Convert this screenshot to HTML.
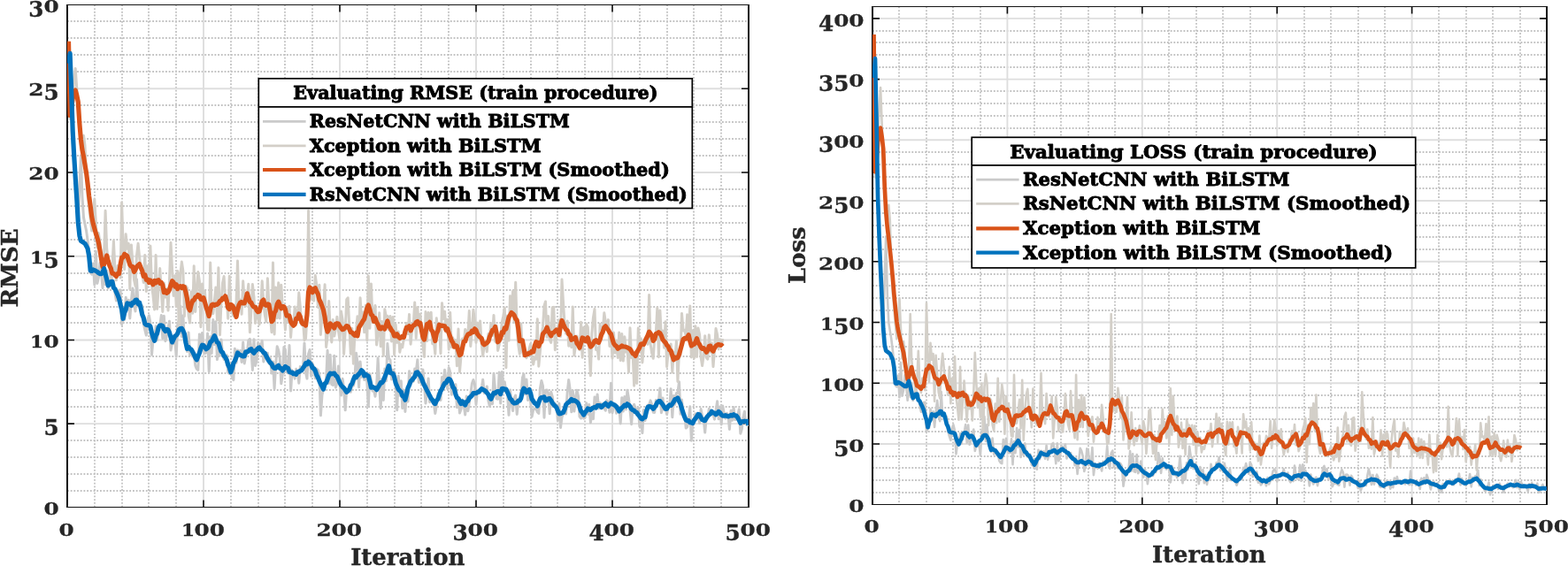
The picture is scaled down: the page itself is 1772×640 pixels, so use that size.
<!DOCTYPE html>
<html lang="en"><head><meta charset="utf-8"><title>Training RMSE and Loss</title>
<style>
html,body{margin:0;padding:0;background:#fff;overflow:hidden;}
#fig{position:absolute;left:0;top:0;width:1772px;height:640px;overflow:hidden;}
body{width:1772px;height:640px;overflow:hidden;position:relative;font-family:'DejaVu Serif','Liberation Serif',serif;font-weight:bold;color:#262626;}
svg{position:absolute;left:0;top:0;display:block;}
.mg{fill:none;stroke:#c2c2c2;stroke-width:1.8;stroke-dasharray:1.8 1.9;}
.Mg{fill:none;stroke:#dedede;stroke-width:1.9;}
.tk{fill:none;stroke:#0d0d0d;stroke-width:1.6;}
.bv{fill:none;stroke:#0d0d0d;stroke-width:2;}
.bh{fill:none;stroke:#141414;stroke-width:1.15;}
text{font-family:'DejaVu Serif','Liberation Serif',serif;font-weight:bold;}
.lg{font-size:20.6px;fill:#000;stroke:#000;stroke-width:0.9;stroke-linejoin:round;}
.al{font-size:26px;fill:#262626;stroke:#262626;stroke-width:0.4;}
.t{position:absolute;width:100px;height:24px;line-height:24px;font-size:24.7px;white-space:nowrap;-webkit-text-stroke:0.35px #262626;}
.xt{text-align:center;}
.yt{text-align:right;}
.t i{font-style:normal;display:inline-block;}
.t i.a{transform:scaleY(0.77);transform-origin:50% 20.3px;}
.t i.o{transform:scale(0.88,0.77);margin:0 -1.1px 0 -0.9px;}
.t i.d{transform:translateY(4.8px) scaleY(0.975);transform-origin:50% 20.3px;}
</style></head>
<body>
<div id="fig">
<svg width="1772" height="640" viewBox="0 0 1772 640">
<rect x="76.0" y="5.5" width="770.0" height="568.0" fill="#fff"/>
<path d="M107,5.5V573.5M138,5.5V573.5M168,5.5V573.5M199,5.5V573.5M261,5.5V573.5M292,5.5V573.5M322,5.5V573.5M353,5.5V573.5M415,5.5V573.5M446,5.5V573.5M476,5.5V573.5M507,5.5V573.5M569,5.5V573.5M600,5.5V573.5M630,5.5V573.5M661,5.5V573.5M723,5.5V573.5M754,5.5V573.5M784,5.5V573.5M815,5.5V573.5M76.0,555H846.0M76.0,536H846.0M76.0,517H846.0M76.0,498H846.0M76.0,460H846.0M76.0,441H846.0M76.0,422H846.0M76.0,403H846.0M76.0,365H846.0M76.0,347H846.0M76.0,328H846.0M76.0,309H846.0M76.0,271H846.0M76.0,252H846.0M76.0,233H846.0M76.0,214H846.0M76.0,176H846.0M76.0,157H846.0M76.0,138H846.0M76.0,119H846.0M76.0,81H846.0M76.0,62H846.0M76.0,43H846.0M76.0,24H846.0" class="mg"/>
<path d="M230.00,5.5V573.5M384.00,5.5V573.5M538.00,5.5V573.5M692.00,5.5V573.5M76.0,479.17H846.0M76.0,384.43H846.0M76.0,289.70H846.0M76.0,194.97H846.0M76.0,100.23H846.0" class="Mg"/>
<path d="M230.00,573.5v-8.0M230.00,5.5v8.0M384.00,573.5v-8.0M384.00,5.5v8.0M538.00,573.5v-8.0M538.00,5.5v8.0M692.00,573.5v-8.0M692.00,5.5v8.0M76.0,479.17h8.0M846.0,479.17h-8.0M76.0,384.43h8.0M846.0,384.43h-8.0M76.0,289.70h8.0M846.0,289.70h-8.0M76.0,194.97h8.0M846.0,194.97h-8.0M76.0,100.23h8.0M846.0,100.23h-8.0" class="tk"/>
<path d="M76.0,5.0V574.0M846.0,5.0V574.0" class="bv"/>
<path d="M75.0,5.5H847.0M75.0,573.5H847.0" class="bh"/>
<clipPath id="c1"><rect x="76.0" y="5.5" width="770.0" height="568.0"/></clipPath>
<g clip-path="url(#c1)" fill="none" stroke-linejoin="round" stroke-linecap="butt">
<path d="M77.5,71.8L79.1,58.5L80.6,96.4L82.2,145.6L83.7,175.9L85.2,202.4L86.8,228.9L88.3,251.6L89.9,209.9L91.4,175.9L92.9,221.3L94.5,245.9L96.0,253.5L97.6,261.1L99.1,272.4L100.6,285.7L102.2,308.4L103.7,310.1L105.3,297.9L106.8,322.2L108.3,284.0L109.9,320.5L111.4,313.7L113.0,297.5L114.5,307.7L116.0,325.7L117.6,291.6L119.1,321.8L120.7,306.0L122.2,325.8L123.7,323.1L125.3,308.9L126.8,319.1L128.4,317.6L129.9,331.0L131.4,340.0L133.0,337.2L134.5,328.2L136.1,327.9L137.6,366.7L139.1,362.0L140.7,361.3L142.2,336.3L143.8,349.0L145.3,339.2L146.8,359.9L148.4,339.7L149.9,325.9L151.5,344.4L153.0,351.9L154.5,315.8L156.1,345.6L157.6,341.2L159.2,350.6L160.7,345.6L162.2,365.6L163.8,373.1L165.3,379.1L166.9,361.3L168.4,356.7L169.9,365.1L171.5,401.3L173.0,383.7L174.6,382.2L176.1,368.8L177.6,384.3L179.2,367.7L180.7,368.7L182.3,356.6L183.8,382.7L185.3,357.2L186.9,385.7L188.4,379.8L190.0,371.0L191.5,363.2L193.0,396.0L194.6,387.3L196.1,388.3L197.7,383.5L199.2,403.3L200.7,367.7L202.3,361.8L203.8,345.9L205.4,380.6L206.9,356.9L208.4,384.9L210.0,390.9L211.5,397.5L213.1,376.0L214.6,401.7L216.1,396.0L217.7,403.1L219.2,400.9L220.8,413.4L222.3,417.2L223.8,418.4L225.4,377.9L226.9,390.9L228.5,376.5L230.0,394.0L231.5,399.6L233.1,398.9L234.6,377.1L236.2,420.1L237.7,380.7L239.2,399.4L240.8,361.5L242.3,389.7L243.9,363.7L245.4,406.6L246.9,395.7L248.5,402.1L250.0,383.9L251.6,400.8L253.1,406.4L254.6,405.6L256.2,401.6L257.7,420.8L259.3,422.4L260.8,411.2L262.3,426.0L263.9,429.7L265.4,394.3L267.0,410.3L268.5,395.9L270.0,399.8L271.6,396.5L273.1,409.4L274.7,387.0L276.2,411.0L277.7,402.7L279.3,398.7L280.8,385.2L282.4,383.3L283.9,394.8L285.4,418.4L287.0,383.7L288.5,413.5L290.1,407.4L291.6,387.6L293.1,389.4L294.7,391.3L296.2,385.4L297.8,409.0L299.3,400.1L300.8,402.6L302.4,399.2L303.9,410.9L305.5,405.4L307.0,422.1L308.5,408.9L310.1,439.7L311.6,413.5L313.2,391.7L314.7,396.0L316.2,404.5L317.8,433.8L319.3,423.2L320.9,392.4L322.4,395.5L323.9,420.6L325.5,421.8L327.0,390.5L328.6,442.0L330.1,418.7L331.6,421.4L333.2,428.1L334.7,417.3L336.3,420.8L337.8,433.2L339.3,414.5L340.9,419.1L342.4,416.4L344.0,387.9L345.5,421.2L347.0,428.1L348.6,400.1L350.1,395.5L351.7,425.3L353.2,411.6L354.7,415.4L356.3,427.7L357.8,417.0L359.4,418.5L360.9,423.7L362.4,469.8L364.0,446.7L365.5,439.8L367.1,433.6L368.6,428.8L370.1,396.2L371.7,433.4L373.2,401.3L374.8,434.7L376.3,435.5L377.8,402.3L379.4,438.2L380.9,433.1L382.5,413.9L384.0,435.3L385.5,447.1L387.1,428.3L388.6,440.3L390.2,463.8L391.7,439.7L393.2,440.8L394.8,438.8L396.3,443.3L397.9,434.8L399.4,436.1L400.9,429.9L402.5,399.2L404.0,409.3L405.6,437.8L407.1,408.9L408.6,426.4L410.2,420.3L411.7,429.6L413.3,423.0L414.8,431.7L416.3,459.8L417.9,422.8L419.4,430.3L421.0,442.0L422.5,440.9L424.0,448.3L425.6,437.0L427.1,404.9L428.7,435.1L430.2,461.7L431.7,428.4L433.3,452.5L434.8,417.1L436.4,430.8L437.9,388.6L439.4,405.1L441.0,407.0L442.5,429.1L444.1,418.3L445.6,420.4L447.1,432.1L448.7,463.7L450.2,425.2L451.8,447.1L453.3,430.7L454.8,461.6L456.4,441.1L457.9,465.5L459.5,445.0L461.0,453.9L462.5,419.7L464.1,431.9L465.6,428.3L467.2,431.3L468.7,417.0L470.2,420.6L471.8,406.8L473.3,432.5L474.9,420.9L476.4,434.4L477.9,418.0L479.5,434.6L481.0,456.1L482.6,442.3L484.1,427.9L485.6,454.7L487.2,447.6L488.7,452.9L490.3,456.9L491.8,467.6L493.3,458.5L494.9,445.1L496.4,445.7L498.0,452.5L499.5,426.4L501.0,431.5L502.6,418.2L504.1,431.4L505.7,439.5L507.2,415.8L508.7,420.6L510.3,446.2L511.8,436.5L513.4,439.0L514.9,434.7L516.4,460.6L518.0,449.3L519.5,467.0L521.1,462.5L522.6,452.0L524.1,457.2L525.7,469.0L527.2,448.0L528.8,464.7L530.3,456.1L531.8,445.8L533.4,433.7L534.9,429.5L536.5,434.4L538.0,457.4L539.5,441.5L541.1,443.4L542.6,443.7L544.2,439.3L545.7,429.2L547.2,444.6L548.8,441.9L550.3,437.0L551.9,453.4L553.4,459.5L554.9,453.1L556.5,456.6L558.0,422.3L559.6,441.2L561.1,450.8L562.6,451.3L564.2,421.0L565.7,456.1L567.3,420.4L568.8,435.1L570.3,431.9L571.9,443.5L573.4,443.5L575.0,469.3L576.5,441.0L578.0,454.3L579.6,464.6L581.1,449.9L582.7,447.1L584.2,468.4L585.7,453.6L587.3,451.8L588.8,451.1L590.4,427.3L591.9,422.9L593.4,445.8L595.0,429.0L596.5,452.5L598.1,439.1L599.6,454.0L601.1,471.2L602.7,463.3L604.2,462.0L605.8,462.4L607.3,466.0L608.8,467.4L610.4,439.5L611.9,430.5L613.5,436.4L615.0,472.2L616.5,441.2L618.1,441.0L619.6,444.5L621.2,467.8L622.7,443.3L624.2,448.2L625.8,459.3L627.3,456.4L628.9,458.2L630.4,475.5L631.9,456.2L633.5,483.5L635.0,471.7L636.6,468.0L638.1,465.0L639.6,467.9L641.2,443.4L642.7,429.5L644.3,441.4L645.8,465.8L647.3,441.7L648.9,465.1L650.4,449.0L652.0,441.3L653.5,448.1L655.0,471.1L656.6,473.0L658.1,467.9L659.7,473.1L661.2,472.2L662.7,455.8L664.3,468.3L665.8,457.6L667.4,477.8L668.9,467.9L670.4,473.6L672.0,449.1L673.5,461.7L675.1,446.0L676.6,462.1L678.1,455.7L679.7,457.0L681.2,458.9L682.8,461.6L684.3,464.2L685.8,452.8L687.4,455.1L688.9,466.2L690.5,433.3L692.0,466.8L693.5,457.7L695.1,456.9L696.6,467.2L698.2,459.7L699.7,460.4L701.2,479.0L702.8,449.7L704.3,465.0L705.9,448.4L707.4,462.9L708.9,441.3L710.5,450.5L712.0,463.9L713.6,479.7L715.1,460.3L716.6,457.3L718.2,461.7L719.7,469.4L721.3,461.2L722.8,482.1L724.3,471.4L725.9,489.6L727.4,463.4L729.0,475.5L730.5,463.1L732.0,458.3L733.6,457.8L735.1,452.9L736.7,457.6L738.2,466.2L739.7,466.4L741.3,452.6L742.8,454.5L744.4,452.7L745.9,438.9L747.4,466.7L749.0,449.9L750.5,463.6L752.1,460.8L753.6,468.5L755.1,460.5L756.7,460.6L758.2,439.8L759.8,471.8L761.3,447.5L762.8,457.2L764.4,444.5L765.9,444.3L767.5,431.7L769.0,468.2L770.5,452.1L772.1,470.3L773.6,467.1L775.2,484.1L776.7,482.6L778.2,475.9L779.8,459.8L781.3,498.2L782.9,477.9L784.4,473.6L785.9,467.7L787.5,470.4L789.0,469.3L790.6,478.4L792.1,462.6L793.6,470.7L795.2,475.0L796.7,489.1L798.3,470.9L799.8,473.2L801.3,462.3L802.9,469.3L804.4,466.6L806.0,468.9L807.5,474.1L809.0,464.4L810.6,453.8L812.1,473.8L813.7,459.9L815.2,480.0L816.7,459.0L818.3,467.3L819.8,473.2L821.4,467.2L822.9,469.6L824.4,485.4L826.0,464.3L827.5,475.3L829.1,460.6L830.6,474.6L832.1,473.7L833.7,470.3L835.2,462.7L836.8,490.2L838.3,485.3L839.8,472.5L841.4,465.2L842.9,479.6L844.5,480.6L846.0,480.6" stroke="#CACACA" stroke-width="3.0"/>
<path d="M77.5,46.8L79.1,134.2L80.6,126.7L82.2,109.6L83.7,90.7L85.2,77.4L86.8,100.1L88.3,119.1L89.9,138.0L91.4,164.5L92.9,164.5L94.5,153.2L96.0,164.5L97.6,198.6L99.1,221.3L100.6,232.7L102.2,247.8L103.7,261.1L105.3,242.1L106.8,225.1L108.3,251.6L109.9,280.0L111.4,263.4L113.0,274.4L114.5,290.9L116.0,314.7L117.6,290.3L119.1,238.3L120.7,281.2L122.2,294.3L123.7,298.8L125.3,322.4L126.8,303.7L128.4,272.4L129.9,304.3L131.4,316.8L133.0,300.6L134.5,301.5L136.1,314.0L137.6,228.9L139.1,277.2L140.7,304.6L142.2,264.8L143.8,281.3L145.3,275.4L146.8,326.8L148.4,276.9L149.9,296.9L151.5,316.5L153.0,323.4L154.5,288.9L156.1,275.3L157.6,290.5L159.2,305.0L160.7,307.2L162.2,319.4L163.8,288.4L165.3,329.5L166.9,300.8L168.4,319.0L169.9,278.1L171.5,322.6L173.0,334.0L174.6,350.0L176.1,288.5L177.6,349.5L179.2,324.5L180.7,303.5L182.3,328.8L183.8,352.5L185.3,319.9L186.9,336.1L188.4,326.4L190.0,351.1L191.5,316.5L193.0,274.3L194.6,305.0L196.1,334.5L197.7,311.8L199.2,346.7L200.7,306.4L202.3,376.4L203.8,310.1L205.4,296.1L206.9,306.5L208.4,357.6L210.0,323.2L211.5,325.6L213.1,356.9L214.6,365.0L216.1,329.9L217.7,354.2L219.2,300.7L220.8,352.5L222.3,329.4L223.8,307.6L225.4,318.0L226.9,369.7L228.5,320.9L230.0,341.7L231.5,329.3L233.1,350.9L234.6,372.8L236.2,373.5L237.7,297.0L239.2,355.1L240.8,354.5L242.3,340.8L243.9,324.9L245.4,361.9L246.9,302.7L248.5,378.7L250.0,341.8L251.6,319.7L253.1,312.5L254.6,337.9L256.2,335.0L257.7,360.2L259.3,312.2L260.8,342.8L262.3,353.9L263.9,357.1L265.4,348.9L267.0,342.5L268.5,295.1L270.0,347.5L271.6,339.0L273.1,355.3L274.7,317.8L276.2,342.8L277.7,345.9L279.3,335.9L280.8,321.3L282.4,375.8L283.9,350.2L285.4,321.6L287.0,336.0L288.5,365.4L290.1,346.1L291.6,358.8L293.1,366.9L294.7,350.2L296.2,317.8L297.8,341.5L299.3,356.1L300.8,363.7L302.4,314.8L303.9,343.7L305.5,359.1L307.0,375.7L308.5,297.0L310.1,378.0L311.6,325.0L313.2,359.8L314.7,319.7L316.2,360.0L317.8,322.3L319.3,347.5L320.9,350.5L322.4,372.9L323.9,348.8L325.5,363.2L327.0,346.3L328.6,381.4L330.1,361.1L331.6,367.8L333.2,346.9L334.7,355.3L336.3,360.8L337.8,331.1L339.3,346.9L340.9,367.3L342.4,361.6L344.0,384.6L345.5,382.8L347.0,357.8L348.6,238.3L350.1,339.6L351.7,326.5L353.2,338.3L354.7,340.1L356.3,311.6L357.8,322.4L359.4,347.5L360.9,322.2L362.4,378.5L364.0,353.9L365.5,348.2L367.1,321.8L368.6,392.5L370.1,380.5L371.7,340.6L373.2,373.4L374.8,386.9L376.3,361.4L377.8,380.1L379.4,371.8L380.9,358.2L382.5,374.5L384.0,384.9L385.5,352.1L387.1,361.5L388.6,400.5L390.2,375.2L391.7,338.7L393.2,336.8L394.8,369.7L396.3,400.3L397.9,371.3L399.4,411.3L400.9,378.4L402.5,373.4L404.0,357.7L405.6,378.2L407.1,336.8L408.6,361.9L410.2,353.0L411.7,375.8L413.3,345.3L414.8,384.8L416.3,312.1L417.9,371.2L419.4,320.9L421.0,362.4L422.5,355.2L424.0,345.4L425.6,390.0L427.1,377.1L428.7,353.8L430.2,391.7L431.7,363.4L433.3,402.2L434.8,349.7L436.4,358.3L437.9,357.4L439.4,373.0L441.0,357.5L442.5,386.0L444.1,358.4L445.6,401.0L447.1,366.9L448.7,387.3L450.2,374.9L451.8,398.2L453.3,389.5L454.8,392.8L456.4,382.7L457.9,375.5L459.5,365.6L461.0,377.6L462.5,355.4L464.1,389.2L465.6,372.8L467.2,367.6L468.7,342.1L470.2,382.5L471.8,347.5L473.3,369.1L474.9,355.3L476.4,373.7L477.9,391.0L479.5,403.4L481.0,352.6L482.6,385.6L484.1,353.5L485.6,365.6L487.2,353.2L488.7,388.7L490.3,386.1L491.8,400.3L493.3,359.8L494.9,374.6L496.4,366.0L498.0,399.8L499.5,342.7L501.0,360.4L502.6,352.2L504.1,375.4L505.7,361.3L507.2,395.3L508.7,353.3L510.3,392.7L511.8,382.1L513.4,389.9L514.9,384.6L516.4,413.7L518.0,372.0L519.5,420.5L521.1,401.5L522.6,383.0L524.1,389.3L525.7,372.4L527.2,376.0L528.8,379.2L530.3,351.6L531.8,391.5L533.4,374.4L534.9,350.2L536.5,362.7L538.0,387.3L539.5,365.0L541.1,382.0L542.6,362.9L544.2,388.8L545.7,402.4L547.2,391.6L548.8,385.8L550.3,397.7L551.9,377.5L553.4,380.2L554.9,365.4L556.5,379.4L558.0,356.4L559.6,386.3L561.1,368.1L562.6,396.4L564.2,389.6L565.7,380.0L567.3,364.2L568.8,357.3L570.3,348.1L571.9,415.7L573.4,357.0L575.0,385.1L576.5,334.8L578.0,351.3L579.6,329.3L581.1,364.5L582.7,319.3L584.2,371.1L585.7,389.6L587.3,400.3L588.8,366.1L590.4,397.8L591.9,401.9L593.4,395.4L595.0,404.7L596.5,401.1L598.1,394.2L599.6,388.7L601.1,404.2L602.7,412.1L604.2,403.8L605.8,406.2L607.3,360.7L608.8,414.2L610.4,397.4L611.9,379.1L613.5,369.4L615.0,345.7L616.5,341.0L618.1,381.2L619.6,357.5L621.2,383.8L622.7,387.4L624.2,348.1L625.8,347.2L627.3,395.8L628.9,379.6L630.4,370.7L631.9,361.7L633.5,380.6L635.0,316.0L636.6,343.4L638.1,367.4L639.6,377.3L641.2,363.1L642.7,391.2L644.3,387.4L645.8,392.7L647.3,347.1L648.9,401.8L650.4,391.5L652.0,380.0L653.5,390.2L655.0,395.7L656.6,364.2L658.1,404.3L659.7,370.3L661.2,384.3L662.7,366.6L664.3,370.0L665.8,395.4L667.4,424.8L668.9,376.3L670.4,359.5L672.0,349.6L673.5,395.5L675.1,393.5L676.6,406.1L678.1,366.6L679.7,378.6L681.2,373.7L682.8,353.8L684.3,363.8L685.8,369.4L687.4,361.6L688.9,391.5L690.5,376.6L692.0,405.1L693.5,376.0L695.1,399.1L696.6,385.3L698.2,404.4L699.7,376.1L701.2,407.6L702.8,377.5L704.3,408.1L705.9,380.8L707.4,398.0L708.9,392.4L710.5,420.6L712.0,370.7L713.6,404.4L715.1,398.8L716.6,436.2L718.2,398.0L719.7,433.5L721.3,371.1L722.8,389.6L724.3,382.8L725.9,410.0L727.4,391.4L729.0,382.8L730.5,384.0L732.0,389.3L733.6,333.5L735.1,388.9L736.7,399.4L738.2,405.3L739.7,382.9L741.3,377.1L742.8,348.1L744.4,403.8L745.9,351.1L747.4,382.2L749.0,373.9L750.5,393.2L752.1,363.8L753.6,414.7L755.1,398.1L756.7,400.5L758.2,388.9L759.8,421.0L761.3,398.2L762.8,407.7L764.4,385.7L765.9,431.4L767.5,398.1L769.0,401.1L770.5,354.4L772.1,373.9L773.6,373.3L775.2,379.4L776.7,355.7L778.2,381.3L779.8,346.0L781.3,403.9L782.9,373.7L784.4,405.2L785.9,368.7L787.5,403.5L789.0,371.1L790.6,378.4L792.1,403.9L793.6,413.5L795.2,401.6L796.7,379.7L798.3,404.4L799.8,406.2L801.3,378.7L802.9,398.0L804.4,387.9L806.0,414.6L807.5,396.4L809.0,371.4L810.6,378.5L812.1,394.9L813.7,383.7L815.2,391.5L816.7,382.9" stroke="#D3CFC8" stroke-width="3.0"/>
<path d="M77.5,46.8L79.1,130.4L80.6,122.9L82.2,111.5L83.7,103.9L85.2,102.0L86.8,107.7L88.3,115.3L89.9,139.9L91.4,157.5L92.9,169.3L94.5,177.3L96.0,186.3L97.6,195.7L99.1,207.9L100.6,221.3L102.2,233.1L103.7,245.0L105.3,252.9L106.8,258.4L108.3,263.7L109.9,269.0L111.4,274.3L113.0,283.4L114.5,292.5L116.0,301.7L117.6,299.1L119.1,294.1L120.7,288.9L122.2,295.0L123.7,300.1L125.3,303.3L126.8,309.2L128.4,309.3L129.9,311.0L131.4,312.4L133.0,309.4L134.5,309.5L136.1,299.1L137.6,291.2L139.1,291.1L140.7,287.3L142.2,288.3L143.8,289.5L145.3,294.5L146.8,299.3L148.4,301.3L149.9,301.6L151.5,307.4L153.0,305.0L154.5,301.4L156.1,300.1L157.6,298.6L159.2,302.7L160.7,306.2L162.2,312.4L163.8,310.7L165.3,316.4L166.9,316.0L168.4,319.5L169.9,316.9L171.5,318.8L173.0,321.9L174.6,317.4L176.1,319.8L177.6,317.2L179.2,316.7L180.7,320.3L182.3,319.4L183.8,322.2L185.3,330.6L186.9,328.6L188.4,331.4L190.0,330.4L191.5,327.5L193.0,322.5L194.6,317.7L196.1,319.3L197.7,324.0L199.2,321.7L200.7,326.7L202.3,324.2L203.8,323.6L205.4,325.6L206.9,323.7L208.4,324.6L210.0,330.6L211.5,337.8L213.1,348.3L214.6,351.0L216.1,344.7L217.7,340.0L219.2,339.4L220.8,336.1L222.3,335.7L223.8,333.5L225.4,334.3L226.9,338.2L228.5,338.8L230.0,336.7L231.5,341.7L233.1,347.7L234.6,351.9L236.2,357.4L237.7,349.8L239.2,344.9L240.8,344.1L242.3,345.3L243.9,344.2L245.4,344.4L246.9,343.1L248.5,340.3L250.0,339.7L251.6,337.3L253.1,338.1L254.6,334.8L256.2,340.0L257.7,348.1L259.3,349.6L260.8,344.4L262.3,345.2L263.9,347.7L265.4,353.6L267.0,358.3L268.5,350.3L270.0,345.0L271.6,342.0L273.1,341.6L274.7,342.8L276.2,342.8L277.7,338.5L279.3,331.9L280.8,336.7L282.4,341.4L283.9,342.3L285.4,345.5L287.0,347.2L288.5,347.4L290.1,351.0L291.6,352.6L293.1,352.0L294.7,346.6L296.2,340.4L297.8,339.1L299.3,344.7L300.8,345.3L302.4,343.9L303.9,344.2L305.5,352.9L307.0,363.6L308.5,362.1L310.1,353.6L311.6,351.3L313.2,344.0L314.7,341.1L316.2,344.8L317.8,348.8L319.3,346.5L320.9,346.5L322.4,349.9L323.9,357.0L325.5,356.7L327.0,357.0L328.6,364.0L330.1,366.3L331.6,368.2L333.2,366.6L334.7,360.2L336.3,360.3L337.8,355.0L339.3,358.2L340.9,364.5L342.4,366.2L344.0,366.7L345.5,368.1L347.0,355.9L348.6,330.2L350.1,324.9L351.7,327.7L353.2,330.7L354.7,326.7L356.3,325.7L357.8,329.5L359.4,332.5L360.9,339.0L362.4,342.0L364.0,346.3L365.5,350.8L367.1,358.8L368.6,369.3L370.1,375.2L371.7,372.3L373.2,365.9L374.8,367.3L376.3,368.9L377.8,371.0L379.4,366.2L380.9,365.7L382.5,366.1L384.0,368.9L385.5,370.9L387.1,372.6L388.6,372.2L390.2,370.3L391.7,368.5L393.2,368.9L394.8,372.0L396.3,375.7L397.9,376.0L399.4,377.9L400.9,379.2L402.5,376.6L404.0,379.9L405.6,370.3L407.1,368.0L408.6,365.6L410.2,362.8L411.7,360.7L413.3,354.3L414.8,348.8L416.3,344.9L417.9,350.0L419.4,355.6L421.0,357.0L422.5,363.4L424.0,359.6L425.6,364.4L427.1,366.8L428.7,371.4L430.2,371.8L431.7,369.9L433.3,370.6L434.8,372.0L436.4,367.3L437.9,362.9L439.4,368.5L441.0,370.6L442.5,373.5L444.1,375.4L445.6,379.8L447.1,379.9L448.7,377.8L450.2,380.6L451.8,382.3L453.3,381.6L454.8,380.1L456.4,381.4L457.9,374.9L459.5,370.2L461.0,370.5L462.5,368.8L464.1,373.8L465.6,370.5L467.2,367.7L468.7,367.4L470.2,364.5L471.8,363.4L473.3,366.6L474.9,365.3L476.4,373.3L477.9,381.4L479.5,384.1L481.0,375.7L482.6,366.3L484.1,366.1L485.6,364.3L487.2,372.8L488.7,374.6L490.3,380.0L491.8,385.5L493.3,377.1L494.9,373.8L496.4,367.2L498.0,368.6L499.5,368.2L501.0,368.4L502.6,368.8L504.1,373.2L505.7,371.7L507.2,376.8L508.7,380.7L510.3,385.2L511.8,387.4L513.4,392.2L514.9,390.7L516.4,391.4L518.0,397.0L519.5,401.6L521.1,400.5L522.6,393.0L524.1,386.3L525.7,385.9L527.2,381.1L528.8,378.1L530.3,377.4L531.8,377.1L533.4,374.2L534.9,375.6L536.5,371.8L538.0,373.3L539.5,377.7L541.1,379.7L542.6,381.4L544.2,382.4L545.7,388.2L547.2,389.8L548.8,388.8L550.3,387.6L551.9,386.0L553.4,380.8L554.9,377.3L556.5,373.4L558.0,373.1L559.6,369.5L561.1,376.4L562.6,386.8L564.2,385.0L565.7,382.1L567.3,375.6L568.8,376.1L570.3,370.8L571.9,371.9L573.4,365.4L575.0,358.8L576.5,356.2L578.0,353.6L579.6,354.8L581.1,356.5L582.7,360.4L584.2,362.0L585.7,371.3L587.3,385.6L588.8,385.1L590.4,384.9L591.9,393.0L593.4,401.7L595.0,399.9L596.5,400.5L598.1,399.1L599.6,399.2L601.1,397.1L602.7,397.9L604.2,391.1L605.8,386.6L607.3,387.4L608.8,391.5L610.4,387.4L611.9,386.3L613.5,377.7L615.0,375.9L616.5,374.3L618.1,370.2L619.6,374.3L621.2,377.2L622.7,379.8L624.2,376.5L625.8,376.2L627.3,374.4L628.9,373.0L630.4,373.6L631.9,378.5L633.5,368.1L635.0,362.5L636.6,366.5L638.1,370.0L639.6,372.6L641.2,373.6L642.7,377.8L644.3,378.8L645.8,384.3L647.3,382.7L648.9,383.6L650.4,381.5L652.0,388.3L653.5,390.0L655.0,393.2L656.6,387.8L658.1,382.0L659.7,382.4L661.2,385.3L662.7,385.9L664.3,381.8L665.8,388.3L667.4,392.1L668.9,391.0L670.4,388.5L672.0,385.5L673.5,384.7L675.1,386.6L676.6,387.3L678.1,383.7L679.7,378.2L681.2,375.4L682.8,370.3L684.3,368.8L685.8,371.0L687.4,373.0L688.9,375.9L690.5,377.7L692.0,383.4L693.5,388.2L695.1,390.5L696.6,391.5L698.2,394.3L699.7,393.0L701.2,392.4L702.8,391.0L704.3,392.0L705.9,392.0L707.4,392.3L708.9,392.9L710.5,393.9L712.0,394.6L713.6,397.2L715.1,399.8L716.6,400.3L718.2,402.4L719.7,398.2L721.3,395.8L722.8,392.8L724.3,389.0L725.9,388.7L727.4,389.5L729.0,385.7L730.5,382.5L732.0,379.5L733.6,375.2L735.1,377.0L736.7,379.6L738.2,385.4L739.7,383.5L741.3,377.4L742.8,376.8L744.4,375.7L745.9,376.9L747.4,379.5L749.0,384.1L750.5,385.8L752.1,387.4L753.6,390.3L755.1,391.6L756.7,395.8L758.2,396.6L759.8,401.7L761.3,406.8L762.8,404.1L764.4,405.1L765.9,404.5L767.5,400.7L769.0,395.3L770.5,389.8L772.1,383.7L773.6,382.4L775.2,383.0L776.7,381.2L778.2,378.8L779.8,385.9L781.3,391.1L782.9,389.9L784.4,389.4L785.9,387.0L787.5,382.6L789.0,387.7L790.6,389.5L792.1,392.8L793.6,394.3L795.2,393.7L796.7,395.4L798.3,398.3L799.8,395.9L801.3,391.6L802.9,391.1L804.4,395.6L806.0,397.1L807.5,393.6L809.0,391.3L810.6,390.0L812.1,389.5L813.7,390.1L815.2,390.1L816.7,391.7" stroke="#D95319" stroke-width="5.2"/>
<path d="M77.5,71.8L79.1,60.4L80.6,100.1L82.2,148.3L83.7,176.1L85.2,200.5L86.8,225.7L88.3,251.4L89.9,266.6L91.4,272.3L92.9,273.3L94.5,274.3L96.0,275.3L97.6,278.2L99.1,281.2L100.6,289.3L102.2,306.0L103.7,306.5L105.3,305.0L106.8,305.7L108.3,306.4L109.9,307.4L111.4,308.6L113.0,309.7L114.5,309.7L116.0,307.8L117.6,303.7L119.1,309.8L120.7,316.2L122.2,322.9L123.7,321.3L125.3,318.6L126.8,318.4L128.4,325.5L129.9,326.6L131.4,330.2L133.0,333.6L134.5,337.5L136.1,344.4L137.6,350.2L139.1,360.3L140.7,353.4L142.2,350.1L143.8,342.9L145.3,344.0L146.8,343.5L148.4,345.5L149.9,342.2L151.5,342.4L153.0,339.3L154.5,339.1L156.1,343.7L157.6,342.2L159.2,348.5L160.7,355.8L162.2,359.3L163.8,366.0L165.3,367.5L166.9,367.6L168.4,367.9L169.9,369.0L171.5,376.2L173.0,381.3L174.6,385.4L176.1,379.6L177.6,376.9L179.2,370.2L180.7,368.1L182.3,367.9L183.8,368.6L185.3,372.4L186.9,374.5L188.4,372.3L190.0,373.0L191.5,376.2L193.0,381.4L194.6,386.9L196.1,383.7L197.7,380.2L199.2,379.2L200.7,377.2L202.3,372.7L203.8,371.5L205.4,371.3L206.9,373.9L208.4,377.4L210.0,387.5L211.5,394.4L213.1,392.4L214.6,394.4L216.1,395.1L217.7,397.9L219.2,400.8L220.8,404.5L222.3,406.8L223.8,403.0L225.4,399.3L226.9,394.3L228.5,390.2L230.0,390.6L231.5,392.4L233.1,394.7L234.6,393.7L236.2,391.4L237.7,386.7L239.2,386.0L240.8,382.6L242.3,379.6L243.9,383.1L245.4,387.0L246.9,387.8L248.5,392.9L250.0,397.5L251.6,398.4L253.1,402.4L254.6,403.8L256.2,407.0L257.7,412.5L259.3,415.5L260.8,420.8L262.3,416.8L263.9,410.5L265.4,408.0L267.0,404.0L268.5,398.9L270.0,400.5L271.6,401.4L273.1,402.1L274.7,402.9L276.2,402.6L277.7,397.9L279.3,397.9L280.8,397.1L282.4,395.2L283.9,394.6L285.4,397.5L287.0,399.2L288.5,396.8L290.1,395.8L291.6,393.6L293.1,393.0L294.7,395.3L296.2,396.3L297.8,398.6L299.3,399.3L300.8,402.5L302.4,405.5L303.9,408.2L305.5,410.1L307.0,411.6L308.5,414.8L310.1,416.4L311.6,416.4L313.2,414.4L314.7,413.3L316.2,416.4L317.8,416.5L319.3,419.0L320.9,416.8L322.4,414.4L323.9,415.5L325.5,416.3L327.0,420.5L328.6,421.1L330.1,421.1L331.6,422.7L333.2,422.3L334.7,423.3L336.3,420.5L337.8,420.6L339.3,419.2L340.9,418.7L342.4,416.0L344.0,414.0L345.5,410.6L347.0,411.7L348.6,409.1L350.1,410.5L351.7,412.5L353.2,416.0L354.7,416.8L356.3,419.2L357.8,423.9L359.4,427.0L360.9,430.7L362.4,434.2L364.0,436.8L365.5,440.1L367.1,433.8L368.6,432.9L370.1,428.8L371.7,424.3L373.2,422.2L374.8,422.9L376.3,422.3L377.8,422.1L379.4,424.6L380.9,425.6L382.5,429.2L384.0,432.8L385.5,435.5L387.1,437.5L388.6,438.8L390.2,441.0L391.7,443.3L393.2,442.1L394.8,440.3L396.3,435.7L397.9,433.8L399.4,429.2L400.9,425.8L402.5,426.7L404.0,424.6L405.6,422.9L407.1,421.1L408.6,418.7L410.2,420.4L411.7,424.9L413.3,423.2L414.8,424.4L416.3,425.2L417.9,431.3L419.4,438.1L421.0,437.3L422.5,438.3L424.0,438.7L425.6,440.7L427.1,438.2L428.7,435.5L430.2,432.7L431.7,432.9L433.3,430.5L434.8,426.5L436.4,422.4L437.9,418.1L439.4,413.6L441.0,421.5L442.5,422.0L444.1,422.5L445.6,426.3L447.1,433.0L448.7,436.8L450.2,440.2L451.8,441.9L453.3,443.2L454.8,447.6L456.4,448.7L457.9,452.2L459.5,445.6L461.0,438.6L462.5,435.5L464.1,431.1L465.6,429.8L467.2,427.7L468.7,425.8L470.2,421.5L471.8,420.8L473.3,423.1L474.9,424.8L476.4,427.9L477.9,432.0L479.5,435.4L481.0,438.2L482.6,441.8L484.1,444.6L485.6,447.5L487.2,450.6L488.7,452.3L490.3,455.4L491.8,456.6L493.3,453.1L494.9,451.1L496.4,446.7L498.0,442.2L499.5,439.7L501.0,436.3L502.6,433.2L504.1,432.9L505.7,429.6L507.2,428.3L508.7,429.3L510.3,432.9L511.8,437.6L513.4,439.7L514.9,445.7L516.4,449.6L518.0,450.6L519.5,453.9L521.1,456.6L522.6,453.9L524.1,456.2L525.7,458.0L527.2,454.3L528.8,453.6L530.3,449.9L531.8,448.8L533.4,447.1L534.9,444.6L536.5,444.7L538.0,444.7L539.5,443.6L541.1,443.2L542.6,441.5L544.2,439.7L545.7,440.3L547.2,441.3L548.8,442.3L550.3,444.2L551.9,446.1L553.4,449.5L554.9,451.1L556.5,447.4L558.0,444.3L559.6,444.7L561.1,443.1L562.6,442.5L564.2,443.2L565.7,445.5L567.3,439.5L568.8,439.3L570.3,440.3L571.9,440.1L573.4,443.3L575.0,446.8L576.5,451.0L578.0,452.1L579.6,454.8L581.1,456.0L582.7,455.6L584.2,455.3L585.7,453.2L587.3,453.1L588.8,450.2L590.4,442.7L591.9,439.2L593.4,440.7L595.0,443.6L596.5,441.6L598.1,440.6L599.6,444.6L601.1,451.3L602.7,453.6L604.2,455.9L605.8,456.7L607.3,459.1L608.8,455.0L610.4,450.9L611.9,449.5L613.5,449.2L615.0,448.9L616.5,453.0L618.1,452.7L619.6,450.8L621.2,450.7L622.7,452.7L624.2,455.7L625.8,457.7L627.3,459.1L628.9,460.6L630.4,464.6L631.9,467.8L633.5,467.7L635.0,466.9L636.6,466.3L638.1,462.7L639.6,457.7L641.2,455.8L642.7,455.0L644.3,453.2L645.8,451.5L647.3,453.2L648.9,452.6L650.4,453.3L652.0,454.5L653.5,456.2L655.0,460.1L656.6,465.0L658.1,466.5L659.7,469.0L661.2,466.2L662.7,464.7L664.3,462.0L665.8,462.4L667.4,463.5L668.9,462.0L670.4,461.1L672.0,460.4L673.5,461.0L675.1,458.7L676.6,458.6L678.1,458.6L679.7,460.5L681.2,458.9L682.8,457.4L684.3,456.1L685.8,457.6L687.4,459.3L688.9,457.3L690.5,455.8L692.0,456.8L693.5,457.5L695.1,458.4L696.6,459.9L698.2,462.3L699.7,464.9L701.2,463.1L702.8,461.2L704.3,459.8L705.9,458.2L707.4,459.0L708.9,456.8L710.5,457.9L712.0,459.5L713.6,462.5L715.1,463.6L716.6,464.2L718.2,466.0L719.7,466.7L721.3,469.0L722.8,470.9L724.3,473.1L725.9,473.9L727.4,472.0L729.0,472.0L730.5,465.1L732.0,460.5L733.6,459.5L735.1,459.8L736.7,460.6L738.2,462.3L739.7,460.5L741.3,458.2L742.8,455.1L744.4,453.5L745.9,453.6L747.4,455.5L749.0,457.5L750.5,460.0L752.1,462.3L753.6,462.2L755.1,459.5L756.7,457.9L758.2,458.4L759.8,456.7L761.3,454.4L762.8,451.6L764.4,451.3L765.9,450.0L767.5,453.9L769.0,456.8L770.5,461.9L772.1,467.0L773.6,471.3L775.2,474.9L776.7,475.9L778.2,475.5L779.8,477.7L781.3,477.9L782.9,478.5L784.4,475.2L785.9,473.3L787.5,471.1L789.0,468.4L790.6,469.0L792.1,472.2L793.6,474.5L795.2,475.2L796.7,475.7L798.3,472.5L799.8,470.6L801.3,468.8L802.9,468.0L804.4,465.3L806.0,466.8L807.5,467.1L809.0,468.7L810.6,467.4L812.1,465.4L813.7,466.8L815.2,469.0L816.7,470.1L818.3,470.2L819.8,469.7L821.4,470.3L822.9,471.0L824.4,470.4L826.0,469.3L827.5,470.1L829.1,468.7L830.6,469.9L832.1,470.1L833.7,472.2L835.2,475.1L836.8,478.3L838.3,476.8L839.8,476.7L841.4,476.2L842.9,476.5L844.5,476.3L846.0,480.6" stroke="#0072BD" stroke-width="5.2"/>
</g>
<rect x="986.0" y="7.5" width="762.0" height="563.0" fill="#fff"/>
<path d="M1016,7.5V570.5M1047,7.5V570.5M1077,7.5V570.5M1108,7.5V570.5M1169,7.5V570.5M1199,7.5V570.5M1230,7.5V570.5M1260,7.5V570.5M1321,7.5V570.5M1352,7.5V570.5M1382,7.5V570.5M1413,7.5V570.5M1474,7.5V570.5M1504,7.5V570.5M1535,7.5V570.5M1565,7.5V570.5M1626,7.5V570.5M1657,7.5V570.5M1687,7.5V570.5M1718,7.5V570.5M986.0,557H1748.0M986.0,543H1748.0M986.0,529H1748.0M986.0,516H1748.0M986.0,488H1748.0M986.0,474H1748.0M986.0,461H1748.0M986.0,447H1748.0M986.0,419H1748.0M986.0,406H1748.0M986.0,392H1748.0M986.0,378H1748.0M986.0,351H1748.0M986.0,337H1748.0M986.0,323H1748.0M986.0,310H1748.0M986.0,282H1748.0M986.0,268H1748.0M986.0,255H1748.0M986.0,241H1748.0M986.0,213H1748.0M986.0,200H1748.0M986.0,186H1748.0M986.0,172H1748.0M986.0,145H1748.0M986.0,131H1748.0M986.0,117H1748.0M986.0,103H1748.0M986.0,76H1748.0M986.0,62H1748.0M986.0,48H1748.0M986.0,35H1748.0" class="mg"/>
<path d="M1138.40,7.5V570.5M1290.80,7.5V570.5M1443.20,7.5V570.5M1595.60,7.5V570.5M986.0,501.97H1748.0M986.0,433.24H1748.0M986.0,364.50H1748.0M986.0,295.77H1748.0M986.0,227.04H1748.0M986.0,158.31H1748.0M986.0,89.58H1748.0M986.0,20.85H1748.0" class="Mg"/>
<path d="M1138.40,570.5v-8.0M1138.40,7.5v8.0M1290.80,570.5v-8.0M1290.80,7.5v8.0M1443.20,570.5v-8.0M1443.20,7.5v8.0M1595.60,570.5v-8.0M1595.60,7.5v8.0M986.0,501.97h8.0M1748.0,501.97h-8.0M986.0,433.24h8.0M1748.0,433.24h-8.0M986.0,364.50h8.0M1748.0,364.50h-8.0M986.0,295.77h8.0M1748.0,295.77h-8.0M986.0,227.04h8.0M1748.0,227.04h-8.0M986.0,158.31h8.0M1748.0,158.31h-8.0M986.0,89.58h8.0M1748.0,89.58h-8.0M986.0,20.85h8.0M1748.0,20.85h-8.0" class="tk"/>
<path d="M986.0,7.0V571.0M1748.0,7.0V571.0" class="bv"/>
<path d="M985.0,7.5H1749.0M985.0,570.5H1749.0" class="bh"/>
<clipPath id="c2"><rect x="986.0" y="7.5" width="762.0" height="563.0"/></clipPath>
<g clip-path="url(#c2)" fill="none" stroke-linejoin="round" stroke-linecap="butt">
<path d="M987.5,88.1L989.0,62.3L990.6,134.3L992.1,219.6L993.6,267.5L995.1,306.5L996.7,342.8L998.2,371.8L999.7,317.1L1001.2,267.5L1002.8,332.7L1004.3,364.7L1005.8,374.1L1007.3,383.3L1008.9,396.7L1010.4,411.6L1011.9,435.7L1013.4,437.3L1015.0,424.8L1016.5,449.3L1018.0,409.8L1019.5,447.6L1021.1,441.0L1022.6,424.4L1024.1,435.0L1025.6,452.7L1027.1,418.1L1028.7,449.0L1030.2,433.3L1031.7,452.8L1033.2,450.2L1034.8,436.2L1036.3,446.3L1037.8,444.9L1039.3,457.6L1040.9,465.8L1042.4,463.3L1043.9,455.0L1045.4,454.8L1047.0,488.3L1048.5,484.6L1050.0,484.0L1051.5,462.5L1053.1,473.7L1054.6,465.2L1056.1,482.9L1057.6,465.6L1059.2,452.9L1060.7,469.7L1062.2,476.2L1063.7,443.1L1065.2,470.8L1066.8,466.9L1068.3,475.1L1069.8,470.8L1071.3,487.5L1072.9,493.4L1074.4,497.9L1075.9,484.0L1077.4,480.3L1079.0,487.1L1080.5,513.4L1082.0,501.2L1083.5,500.1L1085.1,490.0L1086.6,501.7L1088.1,489.2L1089.6,489.9L1091.2,480.1L1092.7,500.6L1094.2,480.6L1095.7,502.7L1097.3,498.4L1098.8,491.7L1100.3,485.5L1101.8,509.9L1103.3,503.8L1104.9,504.6L1106.4,501.1L1107.9,514.8L1109.4,489.1L1111.0,484.4L1112.5,471.0L1114.0,499.0L1115.5,480.4L1117.1,502.1L1118.6,506.4L1120.1,510.9L1121.6,495.5L1123.2,513.7L1124.7,509.9L1126.2,514.7L1127.7,513.2L1129.3,521.1L1130.8,523.4L1132.3,524.2L1133.8,497.0L1135.4,506.4L1136.9,495.9L1138.4,508.6L1139.9,512.3L1141.4,511.9L1143.0,496.4L1144.5,525.2L1146.0,499.1L1147.5,512.2L1149.1,484.1L1150.6,505.6L1152.1,485.9L1153.6,516.9L1155.2,509.7L1156.7,514.0L1158.2,501.4L1159.7,513.1L1161.3,516.8L1162.8,516.3L1164.3,513.6L1165.8,525.6L1167.4,526.5L1168.9,519.8L1170.4,528.6L1171.9,530.6L1173.5,508.7L1175.0,519.2L1176.5,509.8L1178.0,512.4L1179.5,510.2L1181.1,518.7L1182.6,503.7L1184.1,519.7L1185.6,514.4L1187.2,511.8L1188.7,502.3L1190.2,500.9L1191.7,509.1L1193.3,524.2L1194.8,501.2L1196.3,521.2L1197.8,517.4L1199.4,504.1L1200.9,505.3L1202.4,506.7L1203.9,502.5L1205.5,518.4L1207.0,512.7L1208.5,514.3L1210.0,512.1L1211.6,519.6L1213.1,516.1L1214.6,526.3L1216.1,518.4L1217.6,535.9L1219.2,521.2L1220.7,506.9L1222.2,509.9L1223.7,515.6L1225.3,532.9L1226.8,527.0L1228.3,507.4L1229.8,509.5L1231.4,525.5L1232.9,526.2L1234.4,506.1L1235.9,537.1L1237.5,524.3L1239.0,526.0L1240.5,529.8L1242.0,523.5L1243.6,525.6L1245.1,532.5L1246.6,521.9L1248.1,524.6L1249.7,523.0L1251.2,504.3L1252.7,525.8L1254.2,529.8L1255.7,512.7L1257.3,509.5L1258.8,528.2L1260.3,520.1L1261.8,522.4L1263.4,529.5L1264.9,523.3L1266.4,524.3L1267.9,527.2L1269.5,549.7L1271.0,539.4L1272.5,536.0L1274.0,532.7L1275.6,530.1L1277.1,510.1L1278.6,532.7L1280.1,513.4L1281.7,533.3L1283.2,533.8L1284.7,514.1L1286.2,535.2L1287.8,532.5L1289.3,521.5L1290.8,533.7L1292.3,539.6L1293.8,529.9L1295.4,536.3L1296.9,547.2L1298.4,536.0L1299.9,536.5L1301.5,535.5L1303.0,537.8L1304.5,533.4L1306.0,534.1L1307.6,530.8L1309.1,512.1L1310.6,518.6L1312.1,535.0L1313.7,518.4L1315.2,528.8L1316.7,525.3L1318.2,530.6L1319.8,526.8L1321.3,531.7L1322.8,545.5L1324.3,526.8L1325.9,531.0L1327.4,537.1L1328.9,536.6L1330.4,540.2L1331.9,534.6L1333.5,515.8L1335.0,533.5L1336.5,546.3L1338.0,529.9L1339.6,542.2L1341.1,523.4L1342.6,531.3L1344.1,504.8L1345.7,516.0L1347.2,517.1L1348.7,530.3L1350.2,524.1L1351.8,525.3L1353.3,532.0L1354.8,547.2L1356.3,528.1L1357.9,539.6L1359.4,531.2L1360.9,546.2L1362.4,536.7L1364.0,547.9L1365.5,538.6L1367.0,542.8L1368.5,524.9L1370.0,531.8L1371.6,529.9L1373.1,531.5L1374.6,523.4L1376.1,525.5L1377.7,517.0L1379.2,532.2L1380.7,525.6L1382.2,533.2L1383.8,523.9L1385.3,533.3L1386.8,543.8L1388.3,537.3L1389.9,529.6L1391.4,543.2L1392.9,539.9L1394.4,542.4L1396.0,544.2L1397.5,548.7L1399.0,544.9L1400.5,538.7L1402.1,539.0L1403.6,542.2L1405.1,528.8L1406.6,531.7L1408.1,524.0L1409.7,531.6L1411.2,535.8L1412.7,522.6L1414.2,525.5L1415.8,539.2L1417.3,534.3L1418.8,535.6L1420.3,533.3L1421.9,545.8L1423.4,540.7L1424.9,548.5L1426.4,546.6L1428.0,542.0L1429.5,544.3L1431.0,549.3L1432.5,540.1L1434.1,547.6L1435.6,543.9L1437.1,539.0L1438.6,532.8L1440.2,530.5L1441.7,533.2L1443.2,544.4L1444.7,536.9L1446.2,537.8L1447.8,538.0L1449.3,535.8L1450.8,530.4L1452.3,538.4L1453.9,537.1L1455.4,534.5L1456.9,542.6L1458.4,545.4L1460.0,542.5L1461.5,544.1L1463.0,526.5L1464.5,536.7L1466.1,541.4L1467.6,541.7L1469.1,525.7L1470.6,543.8L1472.2,525.4L1473.7,533.6L1475.2,531.8L1476.7,537.9L1478.3,537.9L1479.8,549.4L1481.3,536.6L1482.8,543.0L1484.3,547.5L1485.9,541.0L1487.4,539.6L1488.9,549.1L1490.4,542.7L1492.0,541.9L1493.5,541.6L1495.0,529.3L1496.5,526.8L1498.1,539.0L1499.6,530.3L1501.1,542.2L1502.6,535.6L1504.2,542.9L1505.7,550.2L1507.2,547.0L1508.7,546.4L1510.3,546.6L1511.8,548.1L1513.3,548.7L1514.8,535.9L1516.4,531.1L1517.9,534.2L1519.4,550.6L1520.9,536.7L1522.4,536.6L1524.0,538.4L1525.5,548.8L1527.0,537.8L1528.5,540.1L1530.1,545.3L1531.6,544.0L1533.1,544.8L1534.6,551.8L1536.2,543.9L1537.7,554.7L1539.2,550.4L1540.7,548.9L1542.3,547.7L1543.8,548.9L1545.3,537.8L1546.8,530.5L1548.4,536.8L1549.9,548.0L1551.4,537.0L1552.9,547.7L1554.5,540.6L1556.0,536.7L1557.5,540.1L1559.0,550.1L1560.5,550.9L1562.1,548.9L1563.6,550.9L1565.1,550.6L1566.6,543.7L1568.2,549.0L1569.7,544.5L1571.2,552.7L1572.7,548.9L1574.3,551.1L1575.8,540.6L1577.3,546.3L1578.8,539.1L1580.4,546.5L1581.9,543.7L1583.4,544.2L1584.9,545.1L1586.5,546.3L1588.0,547.4L1589.5,542.3L1591.0,543.4L1592.6,548.2L1594.1,532.6L1595.6,548.4L1597.1,544.5L1598.6,544.2L1600.2,548.6L1601.7,545.4L1603.2,545.8L1604.7,553.1L1606.3,540.9L1607.8,547.7L1609.3,540.3L1610.8,546.8L1612.4,536.8L1613.9,541.3L1615.4,547.2L1616.9,553.4L1618.5,545.7L1620.0,544.4L1621.5,546.3L1623.0,549.5L1624.6,546.1L1626.1,554.2L1627.6,550.3L1629.1,556.8L1630.7,547.0L1632.2,551.8L1633.7,546.9L1635.2,544.8L1636.7,544.6L1638.3,542.4L1639.8,544.5L1641.3,548.2L1642.8,548.3L1644.4,542.2L1645.9,543.1L1647.4,542.3L1648.9,535.5L1650.5,548.4L1652.0,541.0L1653.5,547.1L1655.0,545.9L1656.6,549.1L1658.1,545.8L1659.6,545.8L1661.1,536.0L1662.7,550.4L1664.2,539.8L1665.7,544.3L1667.2,538.4L1668.8,538.2L1670.3,531.7L1671.8,549.0L1673.3,542.0L1674.8,549.8L1676.4,548.6L1677.9,554.9L1679.4,554.4L1680.9,552.0L1682.5,545.5L1684.0,559.4L1685.5,552.7L1687.0,551.1L1688.6,548.8L1690.1,549.9L1691.6,549.4L1693.1,552.9L1694.7,546.7L1696.2,550.0L1697.7,551.6L1699.2,556.6L1700.8,550.1L1702.3,551.0L1703.8,546.6L1705.3,549.4L1706.9,548.4L1708.4,549.3L1709.9,551.3L1711.4,547.5L1712.9,542.8L1714.5,551.2L1716.0,545.5L1717.5,553.5L1719.0,545.1L1720.6,548.6L1722.1,551.0L1723.6,548.6L1725.1,549.6L1726.7,555.4L1728.2,547.4L1729.7,551.8L1731.2,545.8L1732.8,551.5L1734.3,551.2L1735.8,549.8L1737.3,546.7L1738.9,556.9L1740.4,555.3L1741.9,550.7L1743.4,547.8L1745.0,553.3L1746.5,553.7L1748.0,553.7" stroke="#CACACA" stroke-width="2.6"/>
<path d="M987.5,38.9L989.0,200.7L990.6,187.9L992.1,158.2L993.6,123.8L995.1,99.0L996.7,141.2L998.2,174.8L999.7,207.1L1001.2,249.9L1002.8,249.9L1004.3,231.9L1005.8,249.9L1007.3,301.1L1008.9,332.7L1010.4,347.8L1011.9,367.1L1013.4,383.3L1015.0,360.0L1016.5,337.8L1018.0,371.8L1019.5,405.3L1021.1,386.1L1022.6,399.0L1024.1,417.3L1025.6,442.0L1027.1,416.6L1028.7,355.1L1030.2,406.6L1031.7,420.9L1033.2,425.8L1034.8,449.5L1036.3,430.9L1037.8,396.7L1039.3,431.4L1040.9,444.1L1042.4,427.6L1043.9,428.6L1045.4,441.3L1047.0,342.8L1048.5,402.1L1050.0,431.8L1051.5,387.8L1053.1,406.8L1054.6,400.0L1056.1,453.7L1057.6,401.8L1059.2,423.8L1060.7,443.8L1062.2,450.4L1063.7,415.2L1065.2,399.9L1066.8,416.9L1068.3,432.2L1069.8,434.4L1071.3,446.6L1072.9,414.7L1074.4,456.3L1075.9,427.8L1077.4,446.2L1079.0,403.1L1080.5,449.7L1082.0,460.4L1083.5,474.6L1085.1,414.7L1086.6,474.2L1088.1,451.5L1089.6,430.6L1091.2,455.5L1092.7,476.7L1094.2,447.1L1095.7,462.3L1097.3,453.3L1098.8,475.5L1100.3,443.8L1101.8,398.8L1103.3,432.2L1104.9,460.8L1106.4,439.1L1107.9,471.8L1109.4,433.6L1111.0,495.9L1112.5,437.4L1114.0,422.9L1115.5,433.7L1117.1,481.0L1118.6,450.3L1120.1,452.6L1121.6,480.4L1123.2,487.0L1124.7,456.6L1126.2,478.2L1127.7,427.7L1129.3,476.7L1130.8,456.1L1132.3,434.9L1133.8,445.3L1135.4,490.7L1136.9,448.1L1138.4,467.4L1139.9,456.1L1141.4,475.4L1143.0,493.1L1144.5,493.6L1146.0,423.9L1147.5,478.9L1149.1,478.4L1150.6,466.5L1152.1,451.9L1153.6,484.5L1155.2,429.8L1156.7,497.6L1158.2,467.4L1159.7,446.9L1161.3,439.8L1162.8,464.0L1164.3,461.3L1165.8,483.1L1167.4,439.5L1168.9,468.3L1170.4,477.9L1171.9,480.6L1173.5,473.6L1175.0,468.1L1176.5,421.9L1178.0,472.4L1179.5,464.9L1181.1,479.1L1182.6,445.0L1184.1,468.3L1185.6,471.1L1187.2,462.1L1188.7,448.4L1190.2,495.4L1191.7,474.7L1193.3,448.8L1194.8,462.2L1196.3,487.4L1197.8,471.3L1199.4,482.0L1200.9,488.5L1202.4,474.7L1203.9,445.1L1205.5,467.2L1207.0,479.7L1208.5,486.0L1210.0,442.1L1211.6,469.1L1213.1,482.2L1214.6,495.3L1216.1,423.9L1217.6,497.1L1219.2,452.0L1220.7,482.8L1222.2,446.9L1223.7,482.9L1225.3,449.4L1226.8,472.4L1228.3,475.1L1229.8,493.2L1231.4,473.6L1232.9,485.5L1234.4,471.4L1235.9,499.6L1237.5,483.9L1239.0,489.2L1240.5,471.9L1242.0,479.1L1243.6,483.6L1245.1,457.7L1246.6,471.9L1248.1,488.8L1249.7,484.3L1251.2,501.9L1252.7,500.6L1254.2,481.2L1255.7,355.1L1257.3,465.5L1258.8,453.4L1260.3,464.3L1261.8,465.9L1263.4,438.9L1264.9,449.5L1266.4,472.5L1267.9,449.3L1269.5,497.4L1271.0,477.9L1272.5,473.1L1274.0,449.0L1275.6,507.5L1277.1,498.9L1278.6,466.3L1280.1,493.5L1281.7,503.5L1283.2,484.1L1284.7,498.6L1286.2,492.4L1287.8,481.4L1289.3,494.4L1290.8,502.1L1292.3,476.4L1293.8,484.2L1295.4,513.0L1296.9,494.9L1298.4,464.7L1299.9,462.9L1301.5,490.7L1303.0,512.8L1304.5,491.9L1306.0,519.9L1307.6,497.4L1309.1,493.6L1310.6,481.1L1312.1,497.2L1313.7,462.9L1315.2,484.5L1316.7,477.2L1318.2,495.4L1319.8,470.6L1321.3,502.0L1322.8,439.4L1324.3,491.8L1325.9,448.0L1327.4,484.9L1328.9,479.0L1330.4,470.6L1331.9,505.8L1333.5,496.4L1335.0,477.8L1336.5,507.0L1338.0,485.7L1339.6,514.0L1341.1,474.4L1342.6,481.5L1344.1,480.8L1345.7,493.3L1347.2,480.9L1348.7,502.9L1350.2,481.6L1351.8,513.2L1353.3,488.5L1354.8,503.8L1356.3,494.7L1357.9,511.4L1359.4,505.4L1360.9,507.7L1362.4,500.6L1364.0,495.1L1365.5,487.4L1367.0,496.7L1368.5,479.1L1370.0,505.2L1371.6,493.1L1373.1,489.0L1374.6,467.7L1376.1,500.4L1377.7,472.4L1379.2,490.2L1380.7,479.0L1382.2,493.8L1383.8,506.5L1385.3,514.8L1386.8,476.8L1388.3,502.6L1389.9,477.5L1391.4,487.5L1392.9,477.3L1394.4,504.9L1396.0,503.0L1397.5,512.8L1399.0,482.8L1400.5,494.5L1402.1,487.8L1403.6,512.5L1405.1,468.2L1406.6,483.3L1408.1,476.5L1409.7,495.1L1411.2,484.0L1412.7,509.4L1414.2,477.4L1415.8,507.7L1417.3,500.1L1418.8,505.7L1420.3,501.9L1421.9,521.3L1423.4,492.5L1424.9,525.4L1426.4,513.6L1428.0,500.7L1429.5,505.3L1431.0,492.8L1432.5,495.6L1434.1,498.0L1435.6,476.0L1437.1,506.8L1438.6,494.3L1440.2,474.7L1441.7,485.2L1443.2,503.9L1444.7,487.0L1446.2,500.0L1447.8,485.3L1449.3,504.9L1450.8,514.2L1452.3,506.9L1453.9,502.8L1455.4,511.1L1456.9,496.7L1458.4,498.7L1460.0,487.3L1461.5,498.1L1463.0,480.0L1464.5,503.1L1466.1,489.5L1467.6,510.2L1469.1,505.5L1470.6,498.5L1472.2,486.4L1473.7,480.8L1475.2,472.9L1476.7,522.6L1478.3,480.5L1479.8,502.3L1481.3,461.1L1482.8,475.7L1484.3,456.1L1485.9,486.6L1487.4,446.5L1488.9,491.8L1490.4,505.5L1492.0,512.8L1493.5,487.9L1495.0,511.1L1496.5,513.9L1498.1,509.5L1499.6,515.7L1501.1,513.3L1502.6,508.7L1504.2,504.8L1505.7,515.4L1507.2,520.3L1508.7,515.1L1510.3,516.6L1511.8,483.5L1513.3,521.6L1514.8,510.8L1516.4,497.9L1517.9,490.4L1519.4,470.9L1520.9,466.7L1522.4,499.5L1524.0,480.9L1525.5,501.4L1527.0,503.9L1528.5,473.0L1530.1,472.2L1531.6,509.8L1533.1,498.2L1534.6,491.5L1536.2,484.4L1537.7,499.0L1539.2,443.2L1540.7,468.9L1542.3,488.9L1543.8,496.6L1545.3,485.5L1546.8,506.6L1548.4,503.9L1549.9,507.6L1551.4,472.1L1552.9,513.8L1554.5,506.8L1556.0,498.5L1557.5,505.9L1559.0,509.7L1560.5,486.3L1562.1,515.4L1563.6,491.2L1565.1,501.7L1566.6,488.3L1568.2,490.9L1569.7,509.5L1571.2,527.9L1572.7,495.8L1574.3,482.5L1575.8,474.2L1577.3,509.6L1578.8,508.2L1580.4,516.6L1581.9,488.3L1583.4,497.5L1584.9,493.8L1586.5,477.8L1588.0,486.0L1589.5,490.5L1591.0,484.3L1592.6,506.8L1594.1,496.0L1595.6,515.9L1597.1,495.5L1598.6,512.0L1600.2,502.4L1601.7,515.5L1603.2,495.6L1604.7,517.6L1606.3,496.7L1607.8,517.9L1609.3,499.1L1610.8,511.3L1612.4,507.4L1613.9,525.5L1615.4,491.5L1616.9,515.5L1618.5,511.8L1620.0,534.1L1621.5,511.3L1623.0,532.7L1624.6,491.8L1626.1,505.5L1627.6,500.6L1629.1,519.1L1630.7,506.8L1632.2,500.6L1633.7,501.5L1635.2,505.3L1636.7,459.9L1638.3,505.0L1639.8,512.2L1641.3,516.1L1642.8,500.7L1644.4,496.4L1645.9,473.0L1647.4,515.1L1648.9,475.6L1650.5,500.1L1652.0,494.0L1653.5,508.0L1655.0,486.1L1656.6,522.0L1658.1,511.3L1659.6,512.9L1661.1,505.0L1662.7,525.7L1664.2,511.4L1665.7,517.6L1667.2,502.7L1668.8,531.6L1670.3,511.4L1671.8,513.3L1673.3,478.3L1674.8,493.9L1676.4,493.5L1677.9,498.1L1679.4,479.4L1680.9,499.5L1682.5,471.2L1684.0,515.2L1685.5,493.8L1687.0,516.0L1688.6,489.9L1690.1,514.9L1691.6,491.8L1693.1,497.3L1694.7,515.2L1696.2,521.2L1697.7,513.7L1699.2,498.4L1700.8,515.5L1702.3,516.6L1703.8,497.6L1705.3,511.3L1706.9,504.2L1708.4,521.9L1709.9,510.2L1711.4,492.0L1712.9,497.4L1714.5,509.2L1716.0,501.3L1717.5,506.8L1719.0,500.7" stroke="#D3CFC8" stroke-width="2.6"/>
<path d="M987.5,38.9L989.0,194.3L990.6,181.4L992.1,161.5L993.6,148.0L995.1,144.6L996.7,154.8L998.2,168.2L999.7,210.2L1001.2,238.8L1002.8,257.4L1004.3,269.6L1005.8,283.1L1007.3,297.0L1008.9,314.3L1010.4,332.7L1011.9,348.4L1013.4,363.6L1015.0,373.5L1016.5,380.1L1018.0,386.5L1019.5,392.7L1021.1,398.8L1022.6,409.1L1024.1,419.1L1025.6,428.8L1027.1,426.1L1028.7,420.8L1030.2,415.1L1031.7,421.7L1033.2,427.1L1034.8,430.5L1036.3,436.5L1037.8,436.5L1039.3,438.3L1040.9,439.7L1042.4,436.7L1043.9,436.8L1045.4,426.1L1047.0,417.7L1048.5,417.5L1050.0,413.4L1051.5,414.5L1053.1,415.8L1054.6,421.2L1056.1,426.3L1057.6,428.3L1059.2,428.7L1060.7,434.7L1062.2,432.2L1063.7,428.5L1065.2,427.1L1066.8,425.5L1068.3,429.9L1069.8,433.4L1071.3,439.7L1072.9,438.0L1074.4,443.7L1075.9,443.2L1077.4,446.7L1079.0,444.2L1080.5,446.0L1082.0,449.0L1083.5,444.7L1085.1,447.0L1086.6,444.5L1088.1,444.0L1089.6,447.5L1091.2,446.6L1092.7,449.3L1094.2,457.3L1095.7,455.4L1097.3,458.0L1098.8,457.1L1100.3,454.4L1101.8,449.6L1103.3,445.0L1104.9,446.5L1106.4,451.0L1107.9,448.9L1109.4,453.6L1111.0,451.2L1112.5,450.6L1114.0,452.5L1115.5,450.8L1117.1,451.7L1118.6,457.2L1120.1,463.9L1121.6,473.2L1123.2,475.5L1124.7,470.0L1126.2,465.8L1127.7,465.3L1129.3,462.3L1130.8,462.0L1132.3,460.0L1133.8,460.7L1135.4,464.2L1136.9,464.8L1138.4,462.9L1139.9,467.4L1141.4,472.6L1143.0,476.2L1144.5,480.8L1146.0,474.5L1147.5,470.2L1149.1,469.5L1150.6,470.6L1152.1,469.6L1153.6,469.7L1155.2,468.6L1156.7,466.1L1158.2,465.6L1159.7,463.4L1161.3,464.1L1162.8,461.1L1164.3,465.8L1165.8,472.9L1167.4,474.2L1168.9,469.8L1170.4,470.4L1171.9,472.7L1173.5,477.6L1175.0,481.6L1176.5,474.8L1178.0,470.3L1179.5,467.7L1181.1,467.2L1182.6,468.3L1184.1,468.3L1185.6,464.5L1187.2,458.5L1188.7,462.9L1190.2,467.1L1191.7,467.9L1193.3,470.7L1194.8,472.2L1196.3,472.3L1197.8,475.5L1199.4,476.8L1200.9,476.3L1202.4,471.6L1203.9,466.2L1205.5,465.0L1207.0,470.0L1208.5,470.5L1210.0,469.3L1211.6,469.5L1213.1,477.0L1214.6,485.9L1216.1,484.6L1217.6,477.6L1219.2,475.7L1220.7,469.4L1222.2,466.9L1223.7,470.1L1225.3,473.6L1226.8,471.6L1228.3,471.6L1229.8,474.5L1231.4,480.5L1232.9,480.3L1234.4,480.5L1235.9,486.2L1237.5,488.1L1239.0,489.5L1240.5,488.3L1242.0,483.1L1243.6,483.2L1245.1,478.8L1246.6,481.4L1248.1,486.6L1249.7,487.9L1251.2,488.4L1252.7,489.5L1254.2,479.6L1255.7,456.9L1257.3,451.9L1258.8,454.6L1260.3,457.3L1261.8,453.6L1263.4,452.7L1264.9,456.2L1266.4,459.1L1267.9,464.9L1269.5,467.6L1271.0,471.4L1272.5,475.3L1274.0,482.0L1275.6,490.4L1277.1,494.9L1278.6,492.7L1280.1,487.7L1281.7,488.8L1283.2,490.1L1284.7,491.8L1286.2,488.0L1287.8,487.5L1289.3,487.9L1290.8,490.1L1292.3,491.7L1293.8,493.0L1295.4,492.7L1296.9,491.1L1298.4,489.8L1299.9,490.1L1301.5,492.5L1303.0,495.4L1304.5,495.5L1306.0,497.0L1307.6,497.9L1309.1,496.0L1310.6,498.5L1312.1,491.2L1313.7,489.4L1315.2,487.5L1316.7,485.2L1318.2,483.6L1319.8,478.2L1321.3,473.6L1322.8,470.2L1324.3,474.6L1325.9,479.3L1327.4,480.5L1328.9,485.7L1330.4,482.6L1331.9,486.5L1333.5,488.5L1335.0,492.0L1336.5,492.4L1338.0,490.9L1339.6,491.4L1341.1,492.5L1342.6,488.8L1344.1,485.3L1345.7,489.8L1347.2,491.4L1348.7,493.6L1350.2,495.1L1351.8,498.4L1353.3,498.5L1354.8,496.9L1356.3,499.0L1357.9,500.3L1359.4,499.7L1360.9,498.6L1362.4,499.6L1364.0,494.8L1365.5,491.1L1367.0,491.3L1368.5,490.0L1370.0,493.9L1371.6,491.3L1373.1,489.1L1374.6,488.9L1376.1,486.6L1377.7,485.7L1379.2,488.3L1380.7,487.2L1382.2,493.5L1383.8,499.6L1385.3,501.5L1386.8,495.3L1388.3,488.0L1389.9,487.9L1391.4,486.4L1392.9,493.1L1394.4,494.5L1396.0,498.5L1397.5,502.5L1399.0,496.4L1400.5,493.9L1402.1,488.7L1403.6,489.9L1405.1,489.5L1406.6,489.7L1408.1,490.0L1409.7,493.4L1411.2,492.3L1412.7,496.1L1414.2,499.1L1415.8,502.3L1417.3,503.9L1418.8,507.3L1420.3,506.2L1421.9,506.7L1423.4,510.6L1424.9,513.7L1426.4,512.9L1428.0,507.9L1429.5,503.1L1431.0,502.8L1432.5,499.4L1434.1,497.1L1435.6,496.6L1437.1,496.4L1438.6,494.2L1440.2,495.2L1441.7,492.3L1443.2,493.5L1444.7,496.9L1446.2,498.3L1447.8,499.6L1449.3,500.3L1450.8,504.5L1452.3,505.6L1453.9,504.9L1455.4,504.1L1456.9,502.9L1458.4,499.2L1460.0,496.5L1461.5,493.6L1463.0,493.3L1464.5,490.6L1466.1,495.9L1467.6,503.5L1469.1,502.2L1470.6,500.1L1472.2,495.2L1473.7,495.6L1475.2,491.6L1476.7,492.4L1478.3,487.4L1479.8,482.0L1481.3,479.8L1482.8,477.6L1484.3,478.6L1485.9,480.1L1487.4,483.3L1488.9,484.6L1490.4,492.0L1492.0,502.6L1493.5,502.3L1495.0,502.2L1496.5,507.8L1498.1,513.7L1499.6,512.5L1501.1,512.9L1502.6,512.0L1504.2,512.1L1505.7,510.7L1507.2,511.2L1508.7,506.5L1510.3,503.4L1511.8,503.9L1513.3,506.8L1514.8,503.9L1516.4,503.1L1517.9,496.9L1519.4,495.5L1520.9,494.2L1522.4,491.1L1524.0,494.2L1525.5,496.5L1527.0,498.4L1528.5,496.0L1530.1,495.7L1531.6,494.4L1533.1,493.3L1534.6,493.7L1536.2,497.4L1537.7,489.5L1539.2,485.0L1540.7,488.2L1542.3,491.0L1543.8,492.9L1545.3,493.8L1546.8,496.9L1548.4,497.7L1549.9,501.7L1551.4,500.5L1552.9,501.2L1554.5,499.6L1556.0,504.6L1557.5,505.7L1559.0,508.0L1560.5,504.2L1562.1,500.1L1563.6,500.3L1565.1,502.4L1566.6,502.8L1568.2,499.8L1569.7,504.5L1571.2,507.2L1572.7,506.5L1574.3,504.7L1575.8,502.6L1577.3,502.0L1578.8,503.3L1580.4,503.9L1581.9,501.3L1583.4,497.2L1584.9,495.1L1586.5,491.1L1588.0,490.0L1589.5,491.7L1591.0,493.2L1592.6,495.5L1594.1,496.8L1595.6,501.0L1597.1,504.5L1598.6,506.1L1600.2,506.8L1601.7,508.8L1603.2,507.8L1604.7,507.4L1606.3,506.5L1607.8,507.1L1609.3,507.2L1610.8,507.4L1612.4,507.8L1613.9,508.5L1615.4,508.9L1616.9,510.7L1618.5,512.5L1620.0,512.8L1621.5,514.2L1623.0,511.4L1624.6,509.8L1626.1,507.7L1627.6,505.0L1629.1,504.9L1630.7,505.4L1632.2,502.7L1633.7,500.4L1635.2,498.1L1636.7,494.9L1638.3,496.3L1639.8,498.2L1641.3,502.5L1642.8,501.1L1644.4,496.6L1645.9,496.2L1647.4,495.4L1648.9,496.2L1650.5,498.2L1652.0,501.6L1653.5,502.8L1655.0,503.9L1656.6,506.0L1658.1,506.9L1659.6,509.7L1661.1,510.3L1662.7,513.7L1664.2,517.0L1665.7,515.3L1667.2,516.0L1668.8,515.6L1670.3,513.1L1671.8,509.4L1673.3,505.6L1674.8,501.2L1676.4,500.3L1677.9,500.7L1679.4,499.5L1680.9,497.7L1682.5,502.8L1684.0,506.6L1685.5,505.7L1687.0,505.4L1688.6,503.6L1690.1,500.5L1691.6,504.2L1693.1,505.4L1694.7,507.7L1696.2,508.7L1697.7,508.3L1699.2,509.5L1700.8,511.5L1702.3,509.8L1703.8,506.9L1705.3,506.6L1706.9,509.6L1708.4,510.7L1709.9,508.2L1711.4,506.6L1712.9,505.8L1714.5,505.4L1716.0,505.8L1717.5,505.8L1719.0,506.9" stroke="#D95319" stroke-width="4.7"/>
<path d="M987.5,88.1L989.0,66.1L990.6,141.2L992.1,224.0L993.6,267.9L995.1,303.8L996.7,338.6L998.2,371.5L999.7,389.8L1001.2,396.6L1002.8,397.7L1004.3,398.9L1005.8,400.0L1007.3,403.2L1008.9,406.6L1010.4,415.5L1011.9,433.2L1013.4,433.7L1015.0,432.2L1016.5,432.9L1018.0,433.6L1019.5,434.7L1021.1,435.8L1022.6,437.0L1024.1,437.0L1025.6,435.0L1027.1,430.8L1028.7,437.1L1030.2,443.5L1031.7,450.0L1033.2,448.5L1034.8,445.9L1036.3,445.7L1037.8,452.4L1039.3,453.5L1040.9,456.9L1042.4,460.1L1043.9,463.6L1045.4,469.8L1047.0,474.7L1048.5,483.2L1050.0,477.5L1051.5,474.7L1053.1,468.4L1054.6,469.4L1056.1,468.9L1057.6,470.7L1059.2,467.8L1060.7,468.0L1062.2,465.2L1063.7,465.0L1065.2,469.1L1066.8,467.8L1068.3,473.3L1069.8,479.5L1071.3,482.4L1072.9,487.8L1074.4,489.0L1075.9,489.1L1077.4,489.3L1079.0,490.2L1080.5,495.7L1082.0,499.5L1083.5,502.5L1085.1,498.2L1086.6,496.2L1088.1,491.1L1089.6,489.5L1091.2,489.3L1092.7,489.9L1094.2,492.8L1095.7,494.4L1097.3,492.7L1098.8,493.3L1100.3,495.7L1101.8,499.6L1103.3,503.5L1104.9,501.2L1106.4,498.7L1107.9,498.0L1109.4,496.4L1111.0,493.0L1112.5,492.1L1114.0,492.0L1115.5,493.9L1117.1,496.6L1118.6,504.0L1120.1,508.8L1121.6,507.4L1123.2,508.8L1124.7,509.3L1126.2,511.2L1127.7,513.1L1129.3,515.6L1130.8,517.0L1132.3,514.5L1133.8,512.1L1135.4,508.8L1136.9,505.9L1138.4,506.2L1139.9,507.4L1141.4,509.0L1143.0,508.3L1144.5,506.7L1146.0,503.4L1147.5,502.9L1149.1,500.5L1150.6,498.3L1152.1,500.8L1153.6,503.7L1155.2,504.2L1156.7,507.8L1158.2,510.9L1159.7,511.5L1161.3,514.2L1162.8,515.1L1164.3,517.2L1165.8,520.6L1167.4,522.4L1168.9,525.6L1170.4,523.2L1171.9,519.4L1173.5,517.8L1175.0,515.3L1176.5,511.9L1178.0,512.9L1179.5,513.5L1181.1,514.0L1182.6,514.5L1184.1,514.3L1185.6,511.2L1187.2,511.2L1188.7,510.7L1190.2,509.4L1191.7,509.0L1193.3,510.9L1194.8,512.1L1196.3,510.5L1197.8,509.8L1199.4,508.2L1200.9,507.8L1202.4,509.5L1203.9,510.1L1205.5,511.7L1207.0,512.1L1208.5,514.2L1210.0,516.2L1211.6,517.9L1213.1,519.1L1214.6,520.0L1216.1,522.0L1217.6,523.0L1219.2,523.0L1220.7,521.8L1222.2,521.1L1223.7,523.0L1225.3,523.0L1226.8,524.5L1228.3,523.2L1229.8,521.8L1231.4,522.4L1232.9,522.9L1234.4,525.4L1235.9,525.8L1237.5,525.8L1239.0,526.7L1240.5,526.4L1242.0,527.0L1243.6,525.4L1245.1,525.5L1246.6,524.7L1248.1,524.3L1249.7,522.7L1251.2,521.6L1252.7,519.4L1254.2,520.1L1255.7,518.5L1257.3,519.4L1258.8,520.6L1260.3,522.7L1261.8,523.2L1263.4,524.7L1264.9,527.4L1266.4,529.2L1267.9,531.2L1269.5,533.1L1271.0,534.4L1272.5,536.2L1274.0,532.9L1275.6,532.4L1277.1,530.1L1278.6,527.6L1280.1,526.4L1281.7,526.8L1283.2,526.5L1284.7,526.4L1286.2,527.8L1287.8,528.3L1289.3,530.4L1290.8,532.3L1292.3,533.7L1293.8,534.8L1295.4,535.5L1296.9,536.6L1298.4,537.8L1299.9,537.2L1301.5,536.3L1303.0,533.9L1304.5,532.9L1306.0,530.4L1307.6,528.5L1309.1,529.0L1310.6,527.8L1312.1,526.8L1313.7,525.8L1315.2,524.4L1316.7,525.4L1318.2,527.9L1319.8,527.0L1321.3,527.7L1322.8,528.1L1324.3,531.5L1325.9,535.1L1327.4,534.7L1328.9,535.2L1330.4,535.4L1331.9,536.5L1333.5,535.2L1335.0,533.8L1336.5,532.3L1338.0,532.4L1339.6,531.1L1341.1,528.9L1342.6,526.5L1344.1,524.0L1345.7,521.3L1347.2,526.0L1348.7,526.3L1350.2,526.6L1351.8,528.7L1353.3,532.4L1354.8,534.4L1356.3,536.2L1357.9,537.1L1359.4,537.7L1360.9,539.9L1362.4,540.4L1364.0,542.1L1365.5,538.9L1367.0,535.4L1368.5,533.8L1370.0,531.4L1371.6,530.7L1373.1,529.5L1374.6,528.4L1376.1,526.0L1377.7,525.6L1379.2,526.9L1380.7,527.9L1382.2,529.7L1383.8,531.9L1385.3,533.7L1386.8,535.2L1388.3,537.0L1389.9,538.4L1391.4,539.9L1392.9,541.3L1394.4,542.1L1396.0,543.5L1397.5,544.1L1399.0,542.5L1400.5,541.6L1402.1,539.4L1403.6,537.2L1405.1,535.9L1406.6,534.2L1408.1,532.5L1409.7,532.4L1411.2,530.6L1412.7,529.8L1414.2,530.4L1415.8,532.4L1417.3,534.9L1418.8,535.9L1420.3,539.0L1421.9,540.8L1423.4,541.3L1424.9,542.8L1426.4,544.0L1428.0,542.8L1429.5,543.9L1431.0,544.7L1432.5,543.0L1434.1,542.7L1435.6,541.0L1437.1,540.5L1438.6,539.7L1440.2,538.4L1441.7,538.5L1443.2,538.5L1444.7,537.9L1446.2,537.7L1447.8,536.9L1449.3,535.9L1450.8,536.3L1452.3,536.8L1453.9,537.3L1455.4,538.2L1456.9,539.2L1458.4,540.8L1460.0,541.5L1461.5,539.8L1463.0,538.3L1464.5,538.5L1466.1,537.7L1467.6,537.4L1469.1,537.7L1470.6,538.9L1472.2,535.8L1473.7,535.8L1475.2,536.3L1476.7,536.2L1478.3,537.8L1479.8,539.5L1481.3,541.5L1482.8,542.0L1484.3,543.3L1485.9,543.8L1487.4,543.6L1488.9,543.5L1490.4,542.5L1492.0,542.5L1493.5,541.1L1495.0,537.5L1496.5,535.7L1498.1,536.5L1499.6,537.9L1501.1,536.9L1502.6,536.4L1504.2,538.4L1505.7,541.7L1507.2,542.7L1508.7,543.8L1510.3,544.1L1511.8,545.2L1513.3,543.4L1514.8,541.4L1516.4,540.8L1517.9,540.6L1519.4,540.5L1520.9,542.4L1522.4,542.3L1524.0,541.4L1525.5,541.3L1527.0,542.3L1528.5,543.7L1530.1,544.6L1531.6,545.2L1533.1,545.8L1534.6,547.5L1536.2,548.8L1537.7,548.8L1539.2,548.5L1540.7,548.2L1542.3,546.7L1543.8,544.6L1545.3,543.7L1546.8,543.3L1548.4,542.5L1549.9,541.7L1551.4,542.5L1552.9,542.2L1554.5,542.6L1556.0,543.1L1557.5,543.9L1559.0,545.6L1560.5,547.7L1562.1,548.3L1563.6,549.3L1565.1,548.2L1566.6,547.5L1568.2,546.4L1569.7,546.6L1571.2,547.1L1572.7,546.4L1574.3,546.1L1575.8,545.7L1577.3,546.0L1578.8,545.0L1580.4,545.0L1581.9,545.0L1583.4,545.8L1584.9,545.1L1586.5,544.4L1588.0,543.8L1589.5,544.5L1591.0,545.2L1592.6,544.4L1594.1,543.7L1595.6,544.2L1597.1,544.4L1598.6,544.9L1600.2,545.5L1601.7,546.6L1603.2,547.6L1604.7,546.9L1606.3,546.1L1607.8,545.5L1609.3,544.8L1610.8,545.1L1612.4,544.2L1613.9,544.7L1615.4,545.4L1616.9,546.7L1618.5,547.1L1620.0,547.4L1621.5,548.1L1623.0,548.4L1624.6,549.3L1626.1,550.1L1627.6,550.9L1629.1,551.2L1630.7,550.5L1632.2,550.5L1633.7,547.7L1635.2,545.8L1636.7,545.3L1638.3,545.5L1639.8,545.8L1641.3,546.5L1642.8,545.8L1644.4,544.8L1645.9,543.4L1647.4,542.7L1648.9,542.7L1650.5,543.6L1652.0,544.5L1653.5,545.6L1655.0,546.5L1656.6,546.5L1658.1,545.3L1659.6,544.6L1661.1,544.8L1662.7,544.1L1664.2,543.1L1665.7,541.8L1667.2,541.6L1668.8,541.0L1670.3,542.9L1671.8,544.2L1673.3,546.4L1674.8,548.5L1676.4,550.2L1677.9,551.6L1679.4,552.0L1680.9,551.8L1682.5,552.7L1684.0,552.7L1685.5,552.9L1687.0,551.7L1688.6,551.0L1690.1,550.2L1691.6,549.1L1693.1,549.3L1694.7,550.6L1696.2,551.5L1697.7,551.7L1699.2,551.9L1700.8,550.7L1702.3,550.0L1703.8,549.2L1705.3,548.9L1706.9,547.8L1708.4,548.4L1709.9,548.5L1711.4,549.2L1712.9,548.7L1714.5,547.9L1716.0,548.4L1717.5,549.3L1719.0,549.8L1720.6,549.8L1722.1,549.6L1723.6,549.8L1725.1,550.1L1726.7,549.9L1728.2,549.4L1729.7,549.8L1731.2,549.2L1732.8,549.7L1734.3,549.8L1735.8,550.6L1737.3,551.7L1738.9,552.9L1740.4,552.3L1741.9,552.3L1743.4,552.1L1745.0,552.2L1746.5,552.1L1748.0,553.7" stroke="#0072BD" stroke-width="4.7"/>
</g>
<rect x="292.3" y="88.8" width="490.0" height="146.7" fill="#fff" stroke="#000" stroke-width="1.7"/>
<path d="M292.3,120.8H782.3" stroke="#000" stroke-width="1.7"/>
<text x="331.3" y="112.3" class="lg" textLength="412.3" lengthAdjust="spacingAndGlyphs">Evaluating RMSE (train procedure)</text>
<path d="M297.0,137.4H345.6" stroke="#CACACA" stroke-width="2.8"/>
<text x="349.8" y="144.4" class="lg" textLength="294.0" lengthAdjust="spacingAndGlyphs">ResNetCNN with BiLSTM</text>
<path d="M297.0,164.8H345.6" stroke="#D3CFC8" stroke-width="2.8"/>
<text x="349.8" y="171.8" class="lg" textLength="261.8" lengthAdjust="spacingAndGlyphs">Xception with BiLSTM</text>
<path d="M297.0,192.0H345.6" stroke="#D95319" stroke-width="4.2"/>
<text x="349.8" y="199.0" class="lg" textLength="407.0" lengthAdjust="spacingAndGlyphs">Xception with BiLSTM (Smoothed)</text>
<path d="M297.0,219.8H345.6" stroke="#0072BD" stroke-width="4.2"/>
<text x="349.8" y="226.8" class="lg" textLength="427.0" lengthAdjust="spacingAndGlyphs">RsNetCNN with BiLSTM (Smoothed)</text>
<rect x="1098.2" y="155.3" width="501.5" height="147.6" fill="#fff" stroke="#000" stroke-width="1.7"/>
<path d="M1098.2,186.9H1599.7" stroke="#000" stroke-width="1.7"/>
<text x="1141.3" y="178.6" class="lg" textLength="415.3" lengthAdjust="spacingAndGlyphs">Evaluating LOSS (train procedure)</text>
<path d="M1103.2,203.2H1151.6" stroke="#CACACA" stroke-width="2.8"/>
<text x="1156.0" y="210.2" class="lg" textLength="301.4" lengthAdjust="spacingAndGlyphs">ResNetCNN with BiLSTM</text>
<path d="M1103.2,230.3H1151.6" stroke="#D3CFC8" stroke-width="2.8"/>
<text x="1156.0" y="237.3" class="lg" textLength="438.1" lengthAdjust="spacingAndGlyphs">RsNetCNN with BiLSTM (Smoothed)</text>
<path d="M1103.2,258.3H1151.6" stroke="#D95319" stroke-width="4.2"/>
<text x="1156.0" y="265.3" class="lg" textLength="268.5" lengthAdjust="spacingAndGlyphs">Xception with BiLSTM</text>
<path d="M1103.2,285.6H1151.6" stroke="#0072BD" stroke-width="4.2"/>
<text x="1156.0" y="292.6" class="lg" textLength="418.2" lengthAdjust="spacingAndGlyphs">Xception with BiLSTM (Smoothed)</text>
<text class="al" x="460.8" y="638.8" text-anchor="middle" textLength="129.3" lengthAdjust="spacingAndGlyphs">Iteration</text>
<text class="al" x="1366.3" y="636" text-anchor="middle" textLength="128.7" lengthAdjust="spacingAndGlyphs">Iteration</text>
<text class="al" transform="translate(20.3,303) rotate(-90)" text-anchor="middle" textLength="89" lengthAdjust="spacingAndGlyphs">RMSE</text>
<text class="al" transform="translate(910.4,288.7) rotate(-90)" text-anchor="middle" textLength="64.5" lengthAdjust="spacingAndGlyphs">Loss</text>
</svg>
<div class="t xt" style="left:25.2px;top:585.5px"><i class="a">0</i></div>
<div class="t xt" style="left:179.2px;top:585.5px"><i class="a o">1</i><i class="a">0</i><i class="a">0</i></div>
<div class="t xt" style="left:333.2px;top:585.5px"><i class="a">2</i><i class="a">0</i><i class="a">0</i></div>
<div class="t xt" style="left:487.2px;top:585.5px"><i class="d">3</i><i class="a">0</i><i class="a">0</i></div>
<div class="t xt" style="left:641.2px;top:585.5px"><i class="d">4</i><i class="a">0</i><i class="a">0</i></div>
<div class="t xt" style="left:795.2px;top:585.5px"><i class="d">5</i><i class="a">0</i><i class="a">0</i></div>
<div class="t yt" style="left:-33.4px;top:562.1px"><i class="a">0</i></div>
<div class="t yt" style="left:-33.4px;top:467.4px"><i class="d">5</i></div>
<div class="t yt" style="left:-33.4px;top:372.6px"><i class="a o">1</i><i class="a">0</i></div>
<div class="t yt" style="left:-33.4px;top:277.9px"><i class="a o">1</i><i class="d">5</i></div>
<div class="t yt" style="left:-33.4px;top:183.2px"><i class="a">2</i><i class="a">0</i></div>
<div class="t yt" style="left:-33.4px;top:88.4px"><i class="a">2</i><i class="d">5</i></div>
<div class="t yt" style="left:-33.4px;top:-6.3px"><i class="d">3</i><i class="a">0</i></div>
<div class="t xt" style="left:935.2px;top:581.7px"><i class="a">0</i></div>
<div class="t xt" style="left:1087.6px;top:581.7px"><i class="a o">1</i><i class="a">0</i><i class="a">0</i></div>
<div class="t xt" style="left:1240.0px;top:581.7px"><i class="a">2</i><i class="a">0</i><i class="a">0</i></div>
<div class="t xt" style="left:1392.4px;top:581.7px"><i class="d">3</i><i class="a">0</i><i class="a">0</i></div>
<div class="t xt" style="left:1544.8px;top:581.7px"><i class="d">4</i><i class="a">0</i><i class="a">0</i></div>
<div class="t xt" style="left:1697.2px;top:581.7px"><i class="d">5</i><i class="a">0</i><i class="a">0</i></div>
<div class="t yt" style="left:876.5px;top:559.4px"><i class="a">0</i></div>
<div class="t yt" style="left:876.5px;top:490.7px"><i class="d">5</i><i class="a">0</i></div>
<div class="t yt" style="left:876.5px;top:421.9px"><i class="a o">1</i><i class="a">0</i><i class="a">0</i></div>
<div class="t yt" style="left:876.5px;top:353.2px"><i class="a o">1</i><i class="d">5</i><i class="a">0</i></div>
<div class="t yt" style="left:876.5px;top:284.5px"><i class="a">2</i><i class="a">0</i><i class="a">0</i></div>
<div class="t yt" style="left:876.5px;top:215.7px"><i class="a">2</i><i class="d">5</i><i class="a">0</i></div>
<div class="t yt" style="left:876.5px;top:147.0px"><i class="d">3</i><i class="a">0</i><i class="a">0</i></div>
<div class="t yt" style="left:876.5px;top:78.3px"><i class="d">3</i><i class="d">5</i><i class="a">0</i></div>
<div class="t yt" style="left:876.5px;top:9.5px"><i class="d">4</i><i class="a">0</i><i class="a">0</i></div>
</div>
</body></html>
